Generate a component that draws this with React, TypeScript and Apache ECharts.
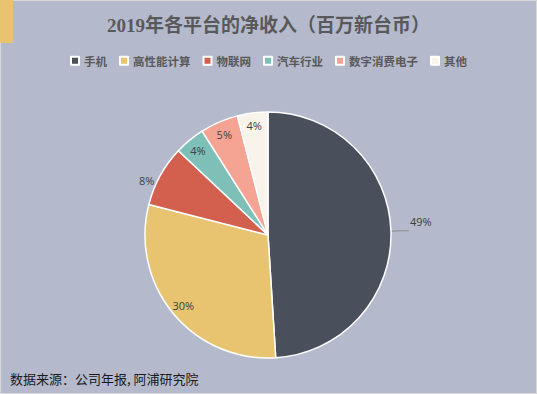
import React, { useEffect, useRef } from "react";
import * as echarts from "echarts";

const categories = ["手机", "高性能计算", "物联网", "汽车行业", "数字消费电子", "其他"];
const netRevenue = [524293, 320996, 85599, 42799, 53499, 42799];
const sliceColors = ["#4A4F5C", "#E8C471", "#D3604F", "#7EBFB8", "#F5A494", "#F8F4EC"];
const outsideLabel = [true, false, true, false, false, false];

const titleText = "2019年各平台的净收入（百万新台币）";
const sourceText = "数据来源：公司年报, 阿浦研究院";

export default function App() {
  const ref = useRef<HTMLDivElement>(null);
  useEffect(() => {
    const chart = echarts.init(ref.current!, null, { renderer: "svg" });
    const center = [268, 235];
    const R = 123;
    const mainData = categories.map((name, i) => ({
      name,
      value: netRevenue[i],
      itemStyle: { color: sliceColors[i] },
      label: {
        show: outsideLabel[i],
        position: "outside",
      },
      labelLine: i === 0
        ? { show: true, length: 12, length2: 6, lineStyle: { color: "#8c8c8c", width: 1 } }
        : { show: false, length: 2, length2: 2 },
    }));
    const overlayData = categories.map((name, i) => ({
      name,
      value: netRevenue[i],
      label: { show: !outsideLabel[i] },
    }));
    chart.setOption({
      animation: false,
      backgroundColor: "#B4B9CC",
      title: {
        text: titleText,
        left: "center",
        top: 11,
        textStyle: {
          fontFamily: "'Liberation Serif', 'Noto Sans CJK SC', serif",
          fontSize: 19,
          fontWeight: "bold",
          color: "#595959",
        },
      },
      legend: {
        data: categories,
        top: 50,
        left: "center",
        itemWidth: 8,
        itemHeight: 8,
        itemGap: 12,
        icon: "rect",
        textStyle: {
          fontFamily: "'Noto Sans CJK SC', sans-serif",
          fontSize: 11.5,
          fontWeight: "bold",
          color: "#595959",
        },
      },
      graphic: [
        {
          type: "rect",
          shape: { x: 0.5, y: 0.5, width: 536, height: 393 },
          style: { fill: "none", stroke: "#D9D9D9", lineWidth: 1 },
          silent: true,
        },
        {
          type: "rect",
          shape: { x: 0, y: 0, width: 13, height: 43 },
          style: { fill: "#E8C471" },
          silent: true,
        },
        {
          type: "text",
          left: 10,
          top: 372,
          style: {
            text: sourceText,
            fontFamily: "'Noto Sans CJK SC', sans-serif",
            fontSize: 13,
            fill: "#1a1a1a",
          },
          silent: true,
        },
      ],
      series: [
        {
          type: "pie",
          name: "净收入",
          center,
          radius: [0, R],
          startAngle: 90,
          clockwise: true,
          percentPrecision: 0,
          avoidLabelOverlap: false,
          itemStyle: { borderColor: "#FFFFFF", borderWidth: 1.5 },
          label: {
            formatter: "{d}%",
            fontFamily: "'Open Sans', 'DejaVu Sans', sans-serif",
            fontSize: 11,
            color: "#404040",
            distanceToLabelLine: 2,
          },
          labelLayout: (p: any) => {
            if (p.dataIndex === 0) return { dy: -9, dx: -1 };
            if (p.dataIndex === 2) return { dy: 6 };
            return {};
          },
          emphasis: { disabled: true },
          data: mainData,
        },
        {
          type: "pie",
          name: "标签",
          center,
          radius: [R * 0.74, R],
          startAngle: 90,
          clockwise: true,
          percentPrecision: 0,
          silent: true,
          legendHoverLink: false,
          itemStyle: { color: "rgba(0,0,0,0)", borderWidth: 0 },
          label: {
            position: "inside",
            formatter: "{d}%",
            fontFamily: "'Open Sans', 'DejaVu Sans', sans-serif",
            fontSize: 11,
            color: "#404040",
          },
          labelLine: { show: false },
          emphasis: { disabled: true },
          data: overlayData,
        },
      ],
    });
    return () => chart.dispose();
  }, []);
  return (
    <div
      ref={ref}
      style={{ position: "absolute", left: 0, top: 0, width: 537, height: 394 }}
    />
  );
}
